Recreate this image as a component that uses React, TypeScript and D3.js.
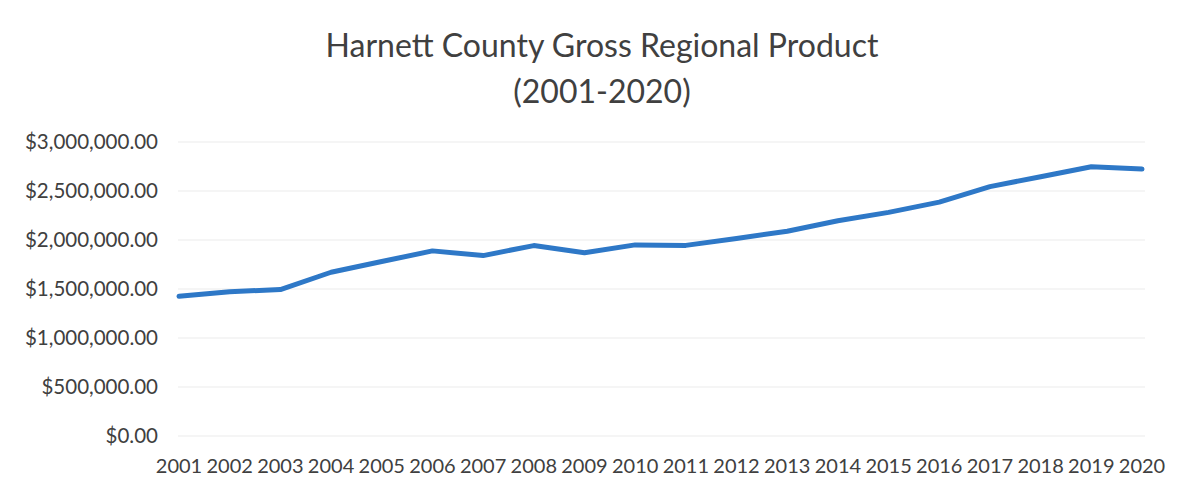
import * as d3 from 'd3';

const years = ['2001', '2002', '2003', '2004', '2005', '2006', '2007', '2008', '2009', '2010',
  '2011', '2012', '2013', '2014', '2015', '2016', '2017', '2018', '2019', '2020'];
const grp = [1425000, 1473000, 1494000, 1671000, 1780000, 1889000, 1841000, 1943000, 1869000, 1950000,
  1945000, 2015000, 2090000, 2197000, 2282000, 2386000, 2545000, 2646000, 2747000, 2724000];
const yTicks = [0, 500000, 1000000, 1500000, 2000000, 2500000, 3000000];
const titleLines = ['Harnett County Gross Regional Product', '(2001-2020)'];

const W = 1186;
const H = 487;
const font = 'Lato, "Open Sans", sans-serif';

export default function App() {
  const x = d3.scalePoint<string>().domain(years).range([179, 1142]);
  const y = d3.scaleLinear().domain([0, 3000000]).range([436, 142]);
  const fmt = (v: number) => '$' + d3.format(',.2f')(v);

  const line = d3.line<number>()
    .x((d, i) => x(years[i]) as number)
    .y(d => y(d));

  return (
    <div>
      <style>{'body{margin:0;background:#fff}'}</style>
      <svg width={W} height={H} style={{ display: 'block' }}>
        <rect width={W} height={H} fill="#fff" />
        {titleLines.map((t, i) => (
          <text key={t} x={602} y={57 + i * 46} textAnchor="middle"
            fontFamily={font} fontSize={32} fill="#404040">{t}</text>
        ))}
        {yTicks.map(t => (
          <g key={t}>
            <line x1={178} x2={1145} y1={y(t)} y2={y(t)} stroke="#ececec" strokeWidth={1.2} />
            <text x={158} y={y(t)} dy="0.35em" textAnchor="end"
              fontFamily={font} fontSize={20.5} fill="#404040">{fmt(t)}</text>
          </g>
        ))}
        {years.map(yr => (
          <text key={yr} x={x(yr)} y={473} textAnchor="middle"
            fontFamily={font} fontSize={20} fill="#404040">{yr}</text>
        ))}
        <path d={line(grp) || ''} fill="none" stroke="#2e78c7" strokeWidth={5}
          strokeLinejoin="round" strokeLinecap="round" />
      </svg>
    </div>
  );
}
